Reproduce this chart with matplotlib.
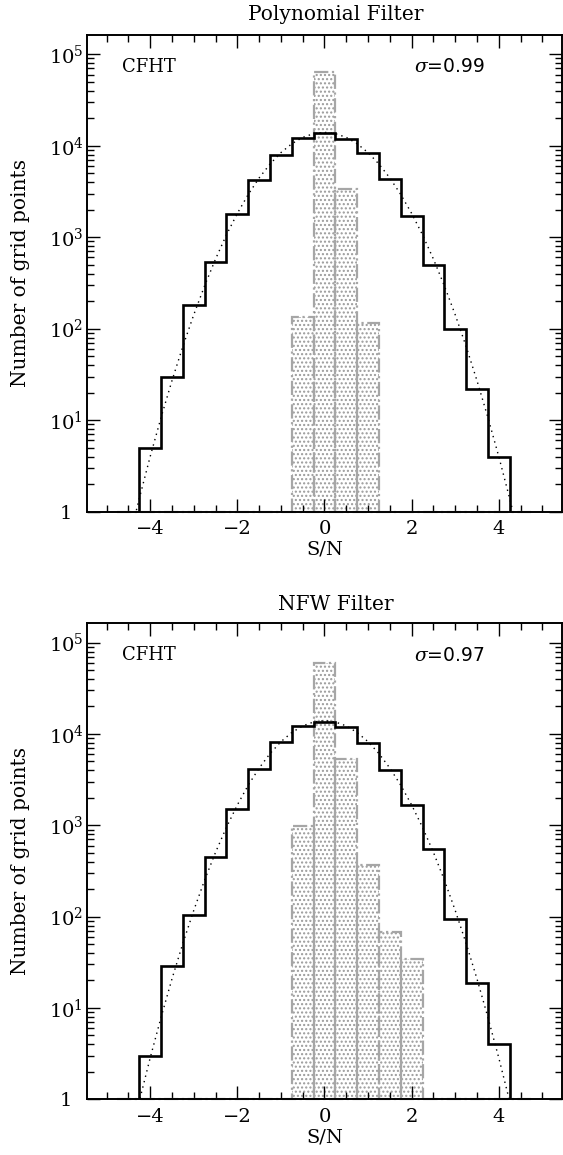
import numpy as np
import matplotlib
matplotlib.use("Agg")
import matplotlib.pyplot as plt
from matplotlib.ticker import MultipleLocator, LogLocator, FixedLocator, FuncFormatter, NullFormatter

plt.rcParams['font.family'] = ['DejaVu Serif']
plt.rcParams['mathtext.fontset'] = 'dejavuserif'

# bin centres of the S/N histograms (width 0.5)
bin_centers = [-4.0, -3.5, -3.0, -2.5, -2.0, -1.5, -1.0, -0.5, 0.0,
               0.5, 1.0, 1.5, 2.0, 2.5, 3.0, 3.5, 4.0]
bin_width = 0.5

# black histogram: S/N of the data grid
poly_counts = [5, 30, 180, 540, 1780, 4200, 7900, 12200, 13700,
               11800, 8400, 4350, 1700, 500, 98, 22, 4]
nfw_counts = [3, 29, 105, 455, 1520, 4150, 8200, 12100, 13600,
              12000, 8000, 4060, 1690, 550, 95, 19, 4]

# grey hatched histogram
poly_grey_centers = [-0.5, 0.0, 0.5, 1.0]
poly_grey_counts = [135, 64000, 3330, 115]
nfw_grey_centers = [-0.5, 0.0, 0.5, 1.0, 1.5, 2.0]
nfw_grey_counts = [980, 60000, 5350, 365, 67, 34]

# dotted gaussian curve
curve_x = [-4.5, -4.25, -4.0, -3.75, -3.5, -3.25, -3.0, -2.75, -2.5, -2.25, -2.0,
           -1.75, -1.5, -1.25, -1.0, -0.75, -0.5, -0.25, 0.0, 0.25, 0.5, 0.75,
           1.0, 1.25, 1.5, 1.75, 2.0, 2.25, 2.5, 2.75, 3.0, 3.25, 3.5, 3.75,
           4.0, 4.25, 4.5]
poly_curve = [0.46, 1.39, 4.0, 10.7, 27, 64, 142, 295, 577, 1060, 1820,
              2930, 4440, 6300, 8400, 10500, 12330, 13550, 14000, 13550, 12330, 10500,
              8400, 6300, 4440, 2930, 1820, 1060, 577, 295, 142, 64, 27, 10.7,
              4.0, 1.39, 0.46]
nfw_curve = [0.30, 0.95, 2.84, 7.9, 20.8, 51, 117, 252, 506, 950, 1670,
             2750, 4230, 6100, 8230, 10380, 12250, 13540, 14000, 13540, 12250, 10380,
             8230, 6100, 4230, 2750, 1670, 950, 506, 252, 117, 51, 20.8, 7.9,
             2.84, 0.95, 0.30]

titles = ["Polynomial Filter", "NFW Filter"]
sigmas = [r"$\sigma$=0.99", r"$\sigma$=0.97"]

grey = "#a6a6a6"

fig = plt.figure(figsize=(5.63, 11.55), dpi=100)
ax1 = fig.add_axes([0.1545, 0.557, 0.8437, 0.4127])
ax2 = fig.add_axes([0.1545, 0.0482, 0.8437, 0.412])

panels = [
    (ax1, poly_counts, poly_grey_centers, poly_grey_counts, poly_curve),
    (ax2, nfw_counts, nfw_grey_centers, nfw_grey_counts, nfw_curve),
]

def ylab(v, pos):
    e = int(round(np.log10(v)))
    if e == 0:
        return "1"
    return r"$10^{%d}$" % e

edges = np.array(bin_centers + [bin_centers[-1] + bin_width]) - bin_width / 2

for i, (ax, counts, gx, gy, curve) in enumerate(panels):
    # grey hatched bars
    ax.bar(gx, gy, width=bin_width, bottom=0.5, color="none", edgecolor="#9a9a9a",
           hatch="....", linewidth=0, zorder=1)
    ax.bar(gx, gy, width=bin_width, bottom=0.5, color="none", edgecolor=grey,
           linestyle="-.", linewidth=1.6, zorder=2)
    ax.plot([-4.75, 4.75], [1, 1], color=grey, linestyle="-.", linewidth=1.6,
            zorder=5, clip_on=False)

    # gaussian
    ax.plot(curve_x, curve, color="black", linestyle=(0, (1, 3)), linewidth=1.0, zorder=3)

    # black histogram
    ax.stairs(counts, edges, baseline=1e-3, color="black", linewidth=1.9, zorder=4)

    ax.set_yscale("log")
    ax.set_xlim(-5.45, 5.45)
    ax.set_ylim(1, 10 ** 5.21)

    ax.xaxis.set_major_locator(MultipleLocator(2))
    ax.xaxis.set_minor_locator(MultipleLocator(0.5))
    ax.xaxis.set_major_formatter(FuncFormatter(lambda v, p: ("\u2212%d" % abs(v)) if v < 0 else "%d" % v))
    ax.yaxis.set_major_locator(FixedLocator([1, 10, 100, 1000, 1e4, 1e5]))
    ax.yaxis.set_minor_locator(LogLocator(base=10, subs=np.arange(2, 10), numticks=20))
    ax.yaxis.set_major_formatter(FuncFormatter(ylab))
    ax.yaxis.set_minor_formatter(NullFormatter())

    ax.tick_params(which="both", direction="in", top=True, right=True, width=1.0)
    ax.tick_params(which="major", length=9.5, labelsize=14)
    ax.tick_params(which="minor", length=4.8)
    ax.tick_params(axis="x", which="major", pad=6)
    ax.tick_params(axis="y", which="major", pad=15)
    for lbl in ax.get_yticklabels():
        lbl.set_horizontalalignment("center")
    for s in ax.spines.values():
        s.set_linewidth(1.4)
        s.set_zorder(6)

    ax.set_xlabel("S/N", fontsize=14, labelpad=2)
    ax.set_ylabel("Number of grid points", fontsize=14.5)
    ax.yaxis.set_label_coords(-0.12, 0.5)

    ax.text(0.074, 0.933, "CFHT", transform=ax.transAxes, fontsize=13,
            ha="left", va="center")
    ax.text(0.838, 0.933, sigmas[i], transform=ax.transAxes, fontsize=13.5,
            ha="right", va="center", family="DejaVu Sans")

fig.text(0.597, 1 - 15 / 1155, titles[0], fontsize=14.5, ha="center", va="center")
fig.text(0.597, 1 - 605 / 1155, titles[1], fontsize=14.5, ha="center", va="center")

fig.savefig("out.png", dpi=100)
